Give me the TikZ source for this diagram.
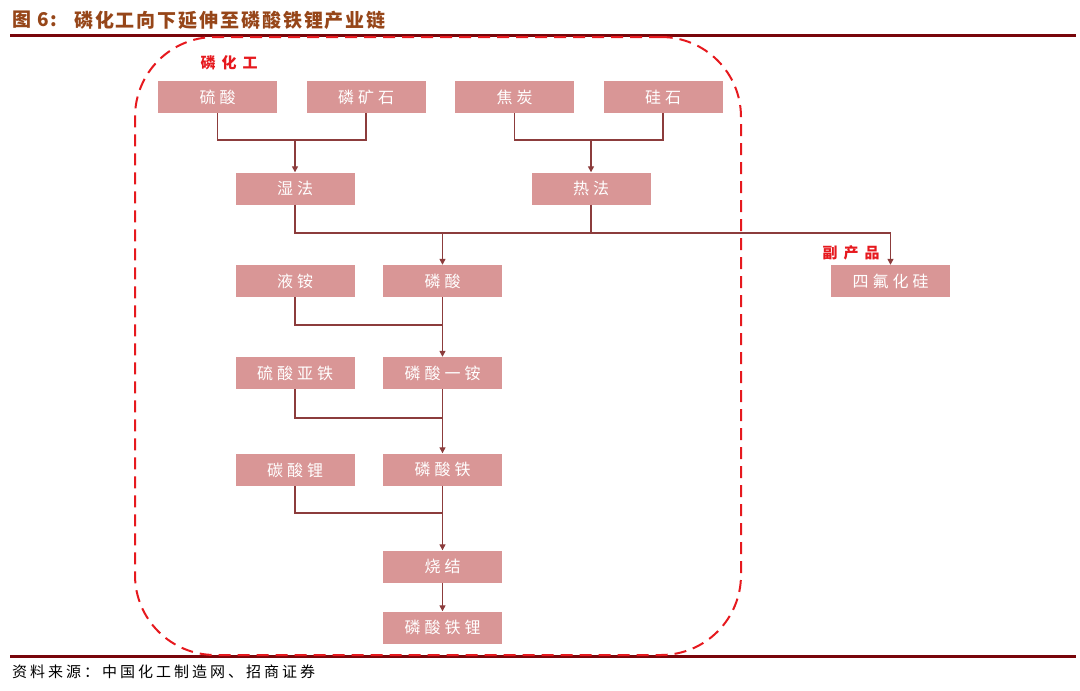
\documentclass[tikz,border=0pt]{standalone}
\usepackage{fontspec}
\usetikzlibrary{arrows.meta}
\newfontfamily\cjk{Noto Sans CJK SC}
\newfontfamily\cjkbox[LetterSpace=25]{Noto Sans CJK SC}
\newfontfamily\cjktitle[LetterSpace=10]{Noto Sans CJK SC}
\newfontfamily\cjksrc[LetterSpace=20]{Noto Sans CJK SC}
\newfontfamily\cjkred[LetterSpace=40]{Noto Sans CJK SC}
\definecolor{titlec}{RGB}{150,70,25}
\definecolor{rulec}{RGB}{120,5,10}
\definecolor{redd}{RGB}{230,25,30}
\definecolor{boxfill}{RGB}{217,150,150}
\definecolor{linec}{RGB}{140,60,60}
\tikzset{
  box/.style={fill=boxfill, minimum width=119pt, minimum height=32pt, inner sep=0pt, text=white,
    font=\cjkbox\fontsize{16}{16}\selectfont},
  conn/.style={draw=linec, line width=1.3pt},
  arr/.style={conn, -{Triangle[length=6pt,width=6pt]}},
  redlabel/.style={text=redd, font=\cjkred\bfseries\fontsize{15}{15}\selectfont, inner sep=0pt},
  titletext/.style={anchor=west, text=titlec, font=\cjktitle\bfseries\fontsize{19}{19}\selectfont, inner sep=0pt},
  frame/.style={draw=redd, line width=2pt, dash pattern=on 12pt off 7pt, rounded corners=80pt,
    minimum width=606pt, minimum height=618pt, inner sep=0pt}
}
\begin{document}
\begin{tikzpicture}[x=1pt,y=-1pt]
\useasboundingbox (0,0) rectangle (1080,691);
% title and rules
\node[titletext] (titlenum) at (12,20) {图 6:};
\node[titletext] (title) at (74,20) {磷化工向下延伸至磷酸铁锂产业链};
\draw[rulec, line width=2.2pt] (10,35.5) -- (1076,35.5);
\draw[rulec, line width=2.2pt] (10,656.5) -- (1076,656.5);
\node[anchor=west, text=black, font=\cjksrc\fontsize{15}{15}\selectfont, inner sep=0pt] (src) at (12,672) {资料来源：中国化工制造网、招商证券};
% dashed frame
\node[frame] (fr) at (438,346) {};
\node[redlabel] (lhg) at (229,63) {磷化工};
\node[redlabel] (fcp) at (851,253) {副产品};
% boxes
\node[box] (liusuan) at (217.5,97) {硫酸};
\node[box] (linkuang) at (366,97) {磷矿石};
\node[box] (jiaotan) at (514.5,97) {焦炭};
\node[box] (guishi) at (663,97) {硅石};
\node[box] (shifa) at (295,188.5) {湿法};
\node[box] (refa) at (591,188.5) {热法};
\node[box] (yean) at (295,281) {液铵};
\node[box] (linsuan) at (442.5,281) {磷酸};
\node[box] (sifu) at (890.5,281) {四氟化硅};
\node[box] (liuyati) at (295,373) {硫酸亚铁};
\node[box] (yian) at (442.5,373) {磷酸一铵};
\node[box] (tansuanli) at (295,470) {碳酸锂};
\node[box] (linsuantie) at (442.5,469.5) {磷酸铁};
\node[box] (shaojie) at (442.5,566.5) {烧结};
\node[box] (lfp) at (442.5,627.5) {磷酸铁锂};
% junctions
\coordinate (b1) at (295,140);
\coordinate (b2) at (591,140);
\coordinate (b3) at (442.5,233);
\coordinate (b4) at (442.5,325);
\coordinate (b5) at (442.5,418);
\coordinate (b6) at (442.5,513);
% connectors
\draw[conn] (liusuan.south) |- (b1) -| (linkuang.south);
\draw[arr] (b1) -- (shifa.north);
\draw[conn] (jiaotan.south) |- (b2) -| (guishi.south);
\draw[arr] (b2) -- (refa.north);
\draw[conn] (shifa.south) |- (b3);
\draw[conn] (refa.south) |- (b3);
\draw[arr] (b3) -- (linsuan.north);
\draw[arr] (b3) -| (sifu.north);
\draw[conn] (yean.south) |- (b4);
\draw[arr] (linsuan.south) -- (yian.north);
\draw[conn] (liuyati.south) |- (b5);
\draw[arr] (yian.south) -- (linsuantie.north);
\draw[conn] (tansuanli.south) |- (b6);
\draw[arr] (linsuantie.south) -- (shaojie.north);
\draw[arr] (shaojie.south) -- (lfp.north);
\end{tikzpicture}
\end{document}
